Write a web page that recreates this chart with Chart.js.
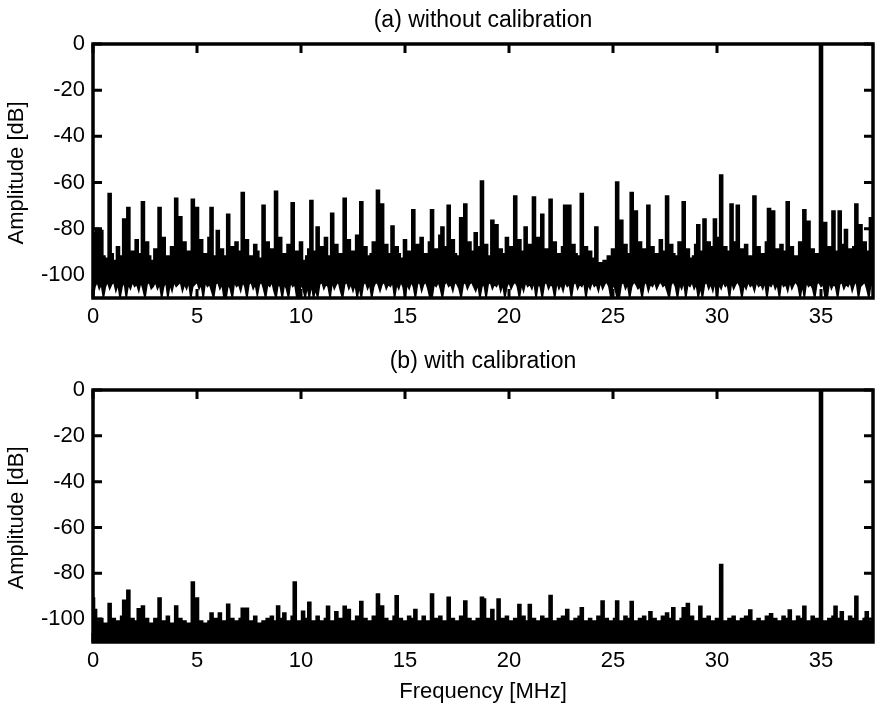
<!DOCTYPE html>
<html>
<head>
<meta charset="utf-8">
<script src="https://cdn.jsdelivr.net/npm/chart.js@4/dist/chart.umd.min.js"></script>
<style>
  html, body { margin: 0; padding: 0; background: #fff; }
  #wrap { position: relative; width: 877px; height: 705px; overflow: hidden; }
  canvas { position: absolute; left: 0; }
  #ca { top: 0; }
  #cb { top: 330px; }
</style>
</head>
<body>
<div id="wrap">
  <canvas id="ca" width="877" height="330"></canvas>
  <canvas id="cb" width="877" height="375"></canvas>
</div>
<script>
// Frequency bin spacing of the spectra below (MHz); bin i sits at i * binMHz
const binMHz = 0.1;

// Axis tick labels
const freqTicks = [0, 5, 10, 15, 20, 25, 30, 35];
const ampTicks = [0, -20, -40, -60, -80, -100];

// (a) without calibration: per-bin peak level (dB), bins 0.0 ... 37.5 MHz
const uncalPeak = [
  -82, -87, -80, -89, -81, -92, -93, -93, -65, -91,
  -96, -94, -88, -92, -92, -76, -91, -71, -92, -90,
  -90, -85, -91, -93, -68.5, -93, -86, -92, -95, -94,
  -89, -93, -71, -91, -84, -94, -92, -92, -88, -93,
  -67, -91, -75, -92, -86, -90, -90, -93, -67.5, -91,
  -71, -92, -85, -94, -91, -91, -84, -71, -92, -92,
  -81, -93, -89, -92, -95, -74, -91, -88, -94, -86,
  -91, -90, -64.5, -92, -85, -93, -92, -92, -87, -90,
  -93, -93, -70, -91, -86, -95, -89, -92, -64, -93,
  -84, -92, -91, -93, -87, -91, -69, -93, -90, -92,
  -86, -94, -94, -92, -89, -68, -91, -90, -79.5, -93,
  -88, -92, -84, -94, -92, -73.5, -91, -87, -93, -91,
  -91, -67, -92, -85, -93, -90, -91, -83, -92, -68.5,
  -92, -88, -93, -92, -91, -86, -94, -63.5, -91, -69.5,
  -93, -87, -92, -91, -79, -93, -88, -91, -93, -93,
  -85, -92, -90, -94, -72, -91, -87, -93, -84, -92,
  -91, -93, -86, -72, -91, -89, -93, -83, -79.5, -92,
  -88, -70, -93, -85, -91, -92, -93, -75.5, -91, -69.5,
  -92, -86, -93, -90, -82, -91, -88, -59.5, -93, -87,
  -92, -92, -76.5, -93, -78.5, -91, -89, -93, -91, -84,
  -93, -88, -91, -66, -93, -85, -92, -90, -79.5, -93,
  -87, -91, -66.5, -93, -84, -92, -74, -93, -89, -91,
  -67.5, -92, -86, -93, -91, -91, -88, -70, -92, -70,
  -93, -87, -91, -92, -93, -65, -92, -88, -94, -90,
  -94, -93, -79.5, -95, -95, -97, -94, -96, -92, -95,
  -89, -92, -60, -93, -76.5, -91, -87, -93, -91, -64.5,
  -92, -72.5, -93, -86, -91, -89, -93, -70, -92, -88,
  -91, -91, -93, -85, -92, -90, -66, -93, -87, -91,
  -92, -93, -86, -92, -68.5, -91, -89, -93, -93, -92,
  -87, -78.5, -93, -90, -76, -91, -86, -93, -88, -76,
  -92, -84, -57, -93, -88, -91, -90, -69.5, -92, -86,
  -70, -93, -89, -91, -87, -93, -92, -92, -66, -91,
  -88, -93, -91, -92, -86, -71.5, -91, -72.5, -93, -89,
  -92, -87, -93, -90, -68.5, -91, -88, -93, -92, -92,
  -86, -93, -72, -92, -77, -91, -89, -93, -91, -92,
  0, -91, -77.5, -93, -88, -92, -72.5, -93, -90, -72.5,
  -91, -87, -80.5, -93, -89, -92, -88, -69.5, -91, -78.5,
  -93, -86, -92, -90, -75.5, -91
];

// (a) without calibration: per-bin floor level (dB), same bins
const uncalFloor = [
  -110, -105, -103, -106, -104, -110, -105, -103, -106, -104,
  -103, -107, -104, -110, -105, -103, -110, -104, -106, -103,
  -105, -104, -107, -103, -106, -110, -104, -103, -106, -105,
  -103, -106, -104, -110, -105, -103, -110, -104, -107, -103,
  -105, -104, -103, -107, -104, -106, -103, -110, -105, -104,
  -103, -106, -104, -110, -103, -105, -104, -107, -110, -104,
  -103, -106, -104, -110, -110, -104, -106, -110, -103, -105,
  -104, -107, -103, -105, -110, -104, -103, -106, -104, -109,
  -104, -103, -106, -110, -104, -105, -103, -107, -110, -104,
  -105, -110, -104, -106, -110, -103, -105, -104, -110, -110,
  -104, -106, -110, -105, -110, -104, -110, -106, -110, -104,
  -103, -106, -104, -105, -110, -103, -106, -104, -103, -107,
  -110, -104, -103, -106, -104, -107, -104, -110, -105, -110,
  -104, -103, -106, -104, -110, -105, -103, -104, -107, -104,
  -103, -106, -104, -105, -103, -110, -104, -106, -103, -105,
  -110, -104, -106, -103, -105, -110, -104, -103, -107, -104,
  -103, -106, -110, -110, -104, -105, -103, -106, -110, -104,
  -103, -105, -104, -107, -103, -104, -106, -110, -104, -103,
  -106, -104, -103, -105, -107, -104, -110, -105, -104, -110,
  -104, -103, -106, -104, -105, -103, -107, -104, -110, -105,
  -103, -106, -104, -103, -105, -110, -104, -107, -103, -105,
  -104, -106, -103, -110, -104, -105, -110, -104, -103, -106,
  -104, -105, -110, -103, -106, -104, -107, -103, -105, -104,
  -110, -104, -103, -106, -104, -105, -103, -110, -104, -106,
  -103, -105, -104, -107, -103, -106, -104, -103, -105, -110,
  -104, -106, -110, -110, -104, -103, -106, -104, -110, -105,
  -103, -104, -106, -105, -110, -104, -103, -107, -104, -105,
  -103, -106, -104, -103, -105, -104, -107, -110, -104, -103,
  -105, -110, -104, -106, -103, -110, -104, -105, -103, -106,
  -104, -110, -105, -110, -104, -103, -106, -104, -107, -103,
  -110, -104, -106, -103, -105, -104, -110, -103, -106, -104,
  -103, -105, -110, -104, -106, -103, -105, -104, -107, -103,
  -105, -104, -106, -103, -110, -104, -105, -103, -106, -104,
  -110, -103, -105, -104, -107, -103, -106, -104, -103, -105,
  -110, -104, -110, -103, -105, -104, -106, -110, -104, -103,
  -105, -104, -110, -110, -103, -106, -104, -105, -110, -104,
  -103, -106, -104, -105, -103, -107, -104, -103, -110, -105,
  -104, -103, -106, -110, -104, -105
];

// (b) with calibration: per-bin peak level (dB), same bins; floor sits at the axis bottom
const calPeak = [
  -91, -96, -101, -102, -100, -103, -102, -102, -93.4, -103,
  -100, -102, -101, -103, -99, -92, -102, -87.6, -103, -100,
  -102, -101, -95.7, -103, -94.5, -102, -100, -103, -102, -102,
  -100, -103, -91, -102, -101, -103, -99, -102, -102, -103,
  -94.5, -102, -100, -103, -101, -102, -102, -103, -84, -102,
  -91, -103, -101, -102, -103, -102, -101, -97.6, -103, -100,
  -102, -97.6, -103, -101, -102, -93.7, -103, -100, -102, -101,
  -103, -100, -95.5, -102, -95.5, -103, -101, -102, -99, -103,
  -102, -102, -101, -103, -100, -102, -99, -103, -101, -94.5,
  -102, -100, -97.6, -103, -101, -102, -99, -84, -103, -101,
  -102, -96.8, -103, -100, -92.9, -102, -101, -103, -99, -102,
  -101, -103, -100, -94.6, -102, -101, -103, -97, -102, -100,
  -103, -94.6, -102, -96, -103, -101, -102, -99, -103, -92.5,
  -102, -100, -103, -101, -102, -99, -103, -89.3, -102, -94.5,
  -103, -100, -102, -101, -103, -99, -90, -102, -100, -103,
  -101, -102, -99, -103, -100, -96, -102, -101, -103, -99,
  -102, -101, -103, -89.3, -102, -100, -103, -99, -102, -101,
  -103, -90.7, -102, -100, -103, -101, -102, -99, -103, -92.3,
  -102, -100, -103, -101, -102, -100, -103, -90.7, -91.5, -102,
  -100, -103, -96, -102, -101, -91.5, -103, -100, -102, -99,
  -103, -101, -102, -100, -103, -93.8, -102, -99, -103, -101,
  -93.8, -102, -100, -103, -101, -102, -99, -103, -100, -102,
  -89.9, -103, -101, -102, -100, -103, -99, -102, -96, -103,
  -101, -102, -100, -103, -99, -95.3, -102, -101, -103, -100,
  -102, -101, -103, -99, -102, -92.3, -103, -100, -102, -101,
  -103, -100, -92.3, -102, -101, -103, -99, -102, -100, -92.5,
  -103, -101, -102, -100, -103, -99, -102, -101, -97, -103,
  -100, -102, -101, -103, -99, -102, -97.6, -103, -100, -95.3,
  -102, -101, -103, -100, -95.3, -102, -93.4, -103, -99, -102,
  -101, -103, -94.6, -102, -100, -103, -99, -102, -101, -103,
  -100, -102, -76.4, -103, -101, -102, -100, -103, -99, -102,
  -101, -103, -100, -102, -99, -103, -96.3, -102, -101, -103,
  -100, -102, -101, -103, -99, -102, -97.9, -103, -100, -102,
  -101, -103, -99, -102, -100, -96.3, -103, -101, -102, -99,
  -102, -100, -94.6, -103, -101, -102, -99, -103, -100, -102,
  0, -103, -101, -102, -100, -103, -99, -94.6, -102, -100,
  -97, -103, -101, -102, -99, -103, -100, -90.3, -102, -101,
  -103, -100, -97, -102, -101, -103
];

const FONT = '"Liberation Sans", Arial, Helvetica, sans-serif';
Chart.defaults.font.family = FONT;
Chart.defaults.font.size = 22;
Chart.defaults.color = '#000';

const toPoints = arr => arr.map((v, i) => ({ x: Math.round(i * binMHz * 10) / 10, y: v }));

// Boxed axes with inward ticks on all four sides, plus the panel and axis titles
const boxFrame = {
  id: 'boxFrame',
  afterDatasetsDraw(chart, args, opts) {
    const { ctx, chartArea: a, scales: { x, y } } = chart;
    ctx.save();
    ctx.strokeStyle = '#000';
    ctx.lineCap = 'butt';
    ctx.lineWidth = 3;
    ctx.beginPath();
    freqTicks.forEach(v => {
      const p = x.getPixelForValue(v);
      ctx.moveTo(p, a.top); ctx.lineTo(p, a.top + 9);
      ctx.moveTo(p, a.bottom); ctx.lineTo(p, a.bottom - 9);
    });
    ampTicks.forEach(v => {
      const p = y.getPixelForValue(v);
      ctx.moveTo(a.left, p); ctx.lineTo(a.left + 9, p);
      ctx.moveTo(a.right, p); ctx.lineTo(a.right - 9, p);
    });
    ctx.stroke();
    ctx.lineWidth = 3.5;
    ctx.strokeRect(a.left, a.top, a.right - a.left, a.bottom - a.top);

    ctx.fillStyle = '#000';
    ctx.textAlign = 'center';
    ctx.textBaseline = 'alphabetic';
    const cx = (a.left + a.right) / 2;
    ctx.font = '23px ' + FONT;
    ctx.fillText(opts.title, cx, opts.titleY);
    ctx.font = '22px ' + FONT;
    if (opts.xTitle) ctx.fillText(opts.xTitle, cx, opts.xTitleY);
    ctx.translate(opts.yTitleX, (a.top + a.bottom) / 2 + 2);
    ctx.rotate(-Math.PI / 2);
    ctx.fillText('Amplitude [dB]', 0, 0);
    ctx.restore();
  }
};

function makePanel(canvasId, peak, floor, frame, padTop, xHeight) {
  const line = { borderColor: '#000', backgroundColor: '#000', pointRadius: 0 };
  const datasets = [];
  if (floor) datasets.push({ ...line, data: toPoints(floor), borderWidth: 1.5, tension: 0, fill: false });
  datasets.push({ ...line, data: toPoints(peak), borderWidth: 2.5, stepped: 'middle', fill: floor ? '-1' : 'start' });
  return new Chart(document.getElementById(canvasId), {
    type: 'line',
    data: { datasets },
    options: {
      responsive: false,
      animation: false,
      events: [],
      layout: { padding: { top: padTop, right: 4, left: 0, bottom: 0 } },
      plugins: {
        legend: { display: false },
        tooltip: { enabled: false },
        boxFrame: frame
      },
      scales: {
        x: {
          type: 'linear',
          min: 0,
          max: 37.5,
          grid: { display: false, drawTicks: false },
          border: { display: false },
          ticks: { padding: 6, maxRotation: 0, autoSkip: false },
          afterBuildTicks: s => { s.ticks = freqTicks.map(v => ({ value: v })); },
          afterFit: s => { s.height = xHeight; }
        },
        y: {
          min: -110,
          max: 0,
          grid: { display: false, drawTicks: false },
          border: { display: false },
          ticks: { padding: 8, autoSkip: false },
          afterBuildTicks: s => { s.ticks = ampTicks.map(v => ({ value: v })); },
          afterFit: s => { s.width = 93; }
        }
      }
    },
    plugins: [boxFrame]
  });
}

makePanel('ca', uncalPeak, uncalFloor,
  { title: '(a) without calibration', titleY: 27, yTitleX: 23 }, 44, 32);
makePanel('cb', calPeak, null,
  { title: '(b) with calibration', titleY: 38, yTitleX: 23, xTitle: 'Frequency [MHz]', xTitleY: 368 }, 60, 63);
</script>
</body>
</html>
